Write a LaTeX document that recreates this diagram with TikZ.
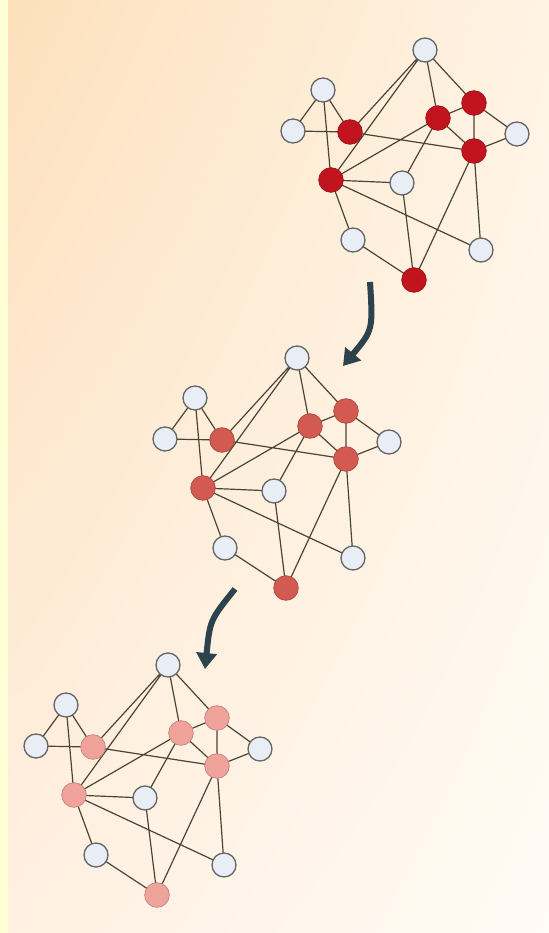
\documentclass[tikz,border=0pt]{standalone}
\usepackage{xcolor}
\usetikzlibrary{arrows.meta, shadings}

\definecolor{bgtl}{HTML}{FDE0BB}
\definecolor{bgtr}{HTML}{FFF3E4}
\definecolor{bgbl}{HTML}{FFF0E2}
\definecolor{bgbr}{HTML}{FFFBF5}
\definecolor{stripe}{HTML}{FFFFD6}
\definecolor{edgec}{HTML}{4A4436}
\definecolor{whitefill}{HTML}{E9EEF6}
\definecolor{redA}{HTML}{C2141F}
\definecolor{redB}{HTML}{D25A50}
\definecolor{redC}{HTML}{EFA39B}
\definecolor{arrowc}{HTML}{2C434D}

\begin{document}
\begin{tikzpicture}[x=0.75pt, y=-0.75pt,
  edge/.style={draw=edgec, line width=0.9pt},
  atom/.style={circle, minimum size=18pt, inner sep=0pt},
  plain/.style={atom, fill=whitefill, draw=black!60, line width=1pt},
  hit/.style={atom, minimum size=18.5pt, fill=#1, draw=#1!80!black, line width=0.5pt},
  flow/.style={draw=arrowc, line width=4.5pt, -{Triangle[length=12pt, width=15pt]}}
]
\useasboundingbox (0,0) rectangle (549,933);

% Background
\shade[upper left=bgtl, upper right=bgtr, lower left=bgbl, lower right=bgbr]
  (0,0) rectangle (549,933);
\fill[stripe] (0,0) rectangle (8,933);

% Three copies of the same network, fading colour
\foreach \g/\dx/\dy/\col in {1/0/0/redA, 2/-128/308/redB, 3/-257/615/redC}{
\begin{scope}[shift={(\dx,\dy)}]
% edges first
\coordinate (\g T) at (425,50);
\coordinate (\g UL) at (323,90);
\coordinate (\g L) at (293,131);
\coordinate (\g A) at (350,132);
\coordinate (\g B) at (438,118);
\coordinate (\g C) at (474,103);
\coordinate (\g R) at (517,134);
\coordinate (\g D) at (474,151);
\coordinate (\g E) at (331,180);
\coordinate (\g F) at (402,183);
\coordinate (\g G) at (353,240);
\coordinate (\g H) at (481,250);
\coordinate (\g I) at (414,280);

\draw[edge] (\g UL) -- (\g L) (\g UL) -- (\g A) (\g UL) -- (\g E)
  (\g L) -- (\g A)
  (\g T) -- (\g A) (\g T) -- (\g E) (\g T) -- (\g B) (\g T) -- (\g C)
  (\g A) -- (\g D)
  (\g B) -- (\g C) (\g B) -- (\g D) (\g B) -- (\g E) (\g B) -- (\g F)
  (\g C) -- (\g D) (\g C) -- (\g R) (\g R) -- (\g D)
  (\g E) -- (\g F) (\g E) -- (\g G) (\g E) -- (\g H)
  (\g D) -- (\g I) (\g D) -- (\g H)
  (\g F) -- (\g I) (\g G) -- (\g I);

% nodes on top
\node[plain] (\g nT) at (\g T) {};
\node[plain] (\g nUL) at (\g UL) {};
\node[plain] (\g nL) at (\g L) {};
\node[plain] (\g nR) at (\g R) {};
\node[plain] (\g nF) at (\g F) {};
\node[plain] (\g nG) at (\g G) {};
\node[plain] (\g nH) at (\g H) {};
\node[hit=\col] (\g nA) at (\g A) {};
\node[hit=\col] (\g nB) at (\g B) {};
\node[hit=\col] (\g nC) at (\g C) {};
\node[hit=\col] (\g nD) at (\g D) {};
\node[hit=\col] (\g nE) at (\g E) {};
\node[hit=\col] (\g nI) at (\g I) {};
\end{scope}
}

% Arrows between the stages
\coordinate (s1) at (370,282);
\coordinate (e1) at (343,366);
\coordinate (s2) at (235,589);
\coordinate (e2) at (205,669);
\draw[flow] (s1) .. controls (373,330) .. (e1);
\draw[flow] (s2) .. controls (210,620) .. (e2);
\end{tikzpicture}
\end{document}
